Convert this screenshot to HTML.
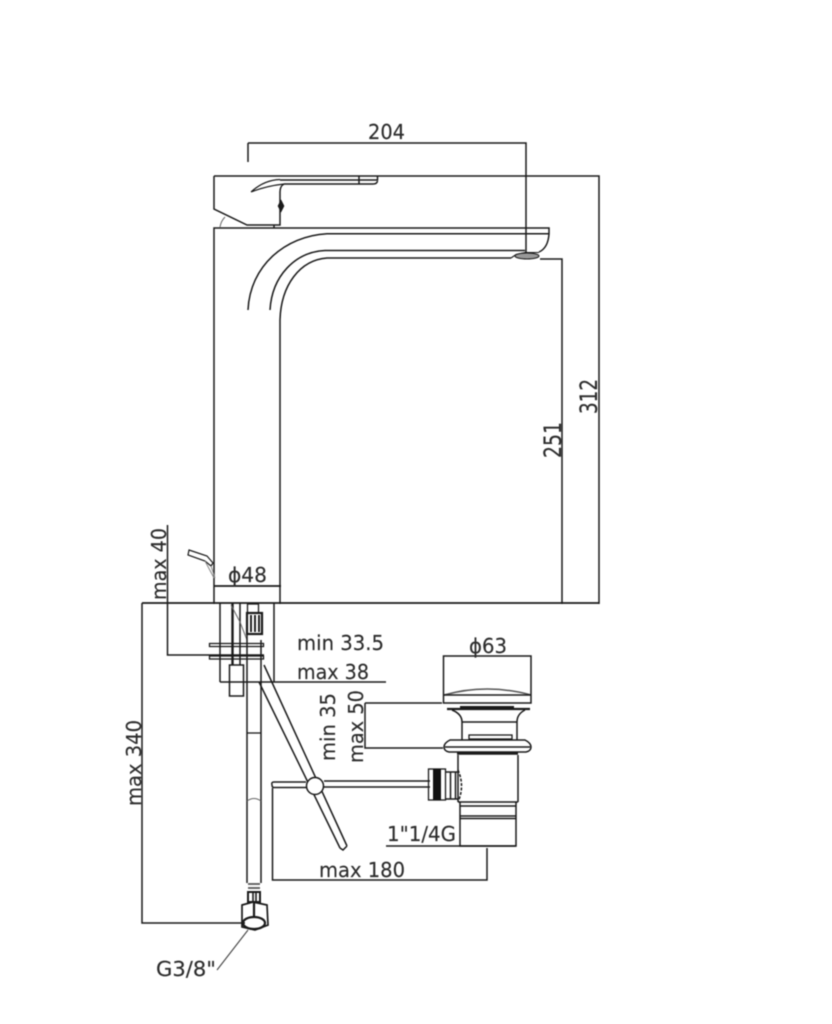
<!DOCTYPE html>
<html>
<head>
<meta charset="utf-8">
<style>
html,body{margin:0;padding:0;background:#fff;}
svg{display:block;filter:blur(.4px);}
text{font-family:"DejaVu Sans","Liberation Sans",sans-serif;font-size:20px;fill:#2c2c2c;stroke:#2c2c2c;stroke-width:.15px;}
</style>
</head>
<body>
<svg width="832" height="1024" viewBox="0 0 832 1024" xmlns="http://www.w3.org/2000/svg">
<g fill="none" stroke="#1a1a1a" stroke-width="1.5">
<!-- dimension lines top -->
<path d="M248 143H526V253M248 143V162"/>
<path d="M214 176H599V604"/>
<path d="M540 259H562V604"/>
<!-- handle -->
<path d="M214 176V209L247 225H280V192Q280 186 284 184"/>
<path d="M280 180H377.5V176M377.5 181Q377 184 373 184H284"/>
<path d="M359 176V184"/>
<path d="M251 192Q264 180 280 179.5M251 192Q266 186 284 184" stroke-width="1.2"/>
<path d="M220 227Q221 221 225 217" stroke="#666" stroke-width="1"/>
<path d="M274 225V228"/>
<path d="M281 201L283.5 206L281 211L278.5 206Z" fill="#1a1a1a"/>
<!-- body -->
<path d="M214 604V228H549V234Q548 248 539 252"/>
<path d="M549 233.7H327C285 236 250 266 248 310"/>
<path d="M525 250.5H325C295 252 272 276 270 310"/>
<path d="M511 258H327C300 260 281 285 280 320V604"/>
<path d="M511 258L516 254.5L525 252.5H539" stroke-width="1.1"/>
<ellipse cx="527" cy="256" rx="12" ry="3" fill="#999" stroke-width="1.1"/>
<!-- base -->
<path d="M142 603H599" stroke-width="1.7"/>
<path d="M214 586H281" stroke-width="1.7"/>
<!-- lever small -->
<path d="M189 550L207 556L213 563L211 566L205 561L188 555Z" stroke-width="1.2"/>
<path d="M205 561L214 578M211 566L215 578" stroke="#888" stroke-width="1"/>
<!-- dims left -->
<path d="M167.5 525V655H264"/>
<path d="M142 603V923H245"/>
<path d="M220 603V682M274 603V682M220 682H386"/>
<!-- fixings -->
<path d="M232.5 603V665" stroke-width="2.4"/>
<path d="M240 603V665"/>
<path d="M231 605L240 622M240 622L247 640" stroke="#666" stroke-width="1"/>
<rect x="209.5" y="643.5" width="54" height="3" stroke-width="1.3"/>
<rect x="209.5" y="656" width="54" height="3" stroke-width="1.3"/>
<rect x="229.5" y="665" width="14" height="31"/>
<rect x="247.5" y="604" width="11" height="9" stroke-width="1.3"/>
<rect x="247" y="613" width="15" height="21" stroke-width="2.2"/>
<path d="M251 615V632M255 615V632M259 615V632" stroke-width="1.9"/>
<path d="M247 634V883M261 640V883"/>
<path d="M247 801Q254 796 261 801" stroke="#666" stroke-width="1"/>
<path d="M247 733H261" stroke-width="1.3"/>
<!-- diagonal rod -->
<path d="M264 665L347 846M259 682L340 848M340 848L343 850L347 846"/>
<!-- nut -->
<path d="M248 884H260M248 888H260" stroke-width="1.8" stroke="#555"/>
<rect x="248" y="892" width="12" height="10" stroke-width="2"/>
<path d="M253 892V902M256 892V902" stroke-width="1.6"/>
<path d="M242 905L253 902L267 905L268 925L255 930L242 927Z" stroke-width="1.7"/>
<path d="M254 902V917" stroke-width="2.2"/>
<ellipse cx="254" cy="923" rx="11" ry="6" stroke-width="2.2"/>
<path d="M248 930L217 970" stroke="#444" stroke-width="1.1"/>
<!-- cross lever -->
<path d="M306 782H274Q271 782 272 785Q272 787.5 274 787.5H306"/>
<path d="M324 781H430M324 787H430"/>
<circle cx="315" cy="786" r="8.5" fill="#fff"/>
<path d="M272.5 788V880H487V848"/>
<!-- waste -->
<path d="M443.5 703V656H531V703Z"/>
<path d="M444 695Q487 683 531 695" stroke="#555"/>
<path d="M444 695H531"/>
<path d="M365 703H442M365 703V748H443"/>
<path d="M460 707.5H514" stroke-width="3"/>
<path d="M447 709H530" stroke-width="2.2"/>
<path d="M452 710Q462 714 462 722V740M525 710Q517 714 517 722V740"/>
<path d="M462 722H517"/>
<rect x="469" y="735" width="43" height="4" stroke-width="1.3"/>
<path d="M450 740H525Q531 743 531 747Q531 751 526 752H449Q444 751 444 747Q444 743 450 740Z"/>
<path d="M445 747H530"/>
<path d="M457 753.5H518" stroke-width="2.6"/>
<path d="M458 755V802M518 755V802"/>
<path d="M458 802H518"/>
<path d="M460 802V846H516V802M460 806H516M460 816H516M460 818.5H516"/>
<path d="M386 846H516"/>
<rect x="428.5" y="769" width="17" height="31" stroke-width="1.3"/>
<rect x="433" y="769" width="8" height="31" fill="#111" stroke="none"/>
<path d="M445.5 772H458M445.5 799H458M450.5 772V799M455.5 772V799"/>
<path d="M458 770Q465 786 458 802" stroke-dasharray="3 1.5"/>
</g>
<text x="368" y="139" textLength="37" lengthAdjust="spacingAndGlyphs">204</text>
<text transform="translate(597 414) rotate(-90)" textLength="35" lengthAdjust="spacingAndGlyphs" style="font-size:24px">312</text>
<text transform="translate(561 458) rotate(-90)" textLength="36" lengthAdjust="spacingAndGlyphs" style="font-size:24px">251</text>
<text transform="translate(166 600) rotate(-90)" textLength="72" lengthAdjust="spacingAndGlyphs">max 40</text>
<text x="228" y="582" textLength="39" lengthAdjust="spacingAndGlyphs">ϕ48</text>
<text x="297" y="650" textLength="87" lengthAdjust="spacingAndGlyphs">min 33.5</text>
<text x="297" y="679" textLength="72" lengthAdjust="spacingAndGlyphs">max 38</text>
<text x="469" y="653" textLength="38" lengthAdjust="spacingAndGlyphs">ϕ63</text>
<text transform="translate(335 761) rotate(-90)" textLength="68" lengthAdjust="spacingAndGlyphs">min 35</text>
<text transform="translate(363 763) rotate(-90)" textLength="73" lengthAdjust="spacingAndGlyphs">max 50</text>
<text transform="translate(141 806) rotate(-90)" textLength="86" lengthAdjust="spacingAndGlyphs">max 340</text>
<text x="387" y="841" textLength="69" lengthAdjust="spacingAndGlyphs">1"1/4G</text>
<text x="319" y="877" textLength="86" lengthAdjust="spacingAndGlyphs">max 180</text>
<text x="156" y="976" textLength="60" lengthAdjust="spacingAndGlyphs">G3/8"</text>
</svg>
</body>
</html>
